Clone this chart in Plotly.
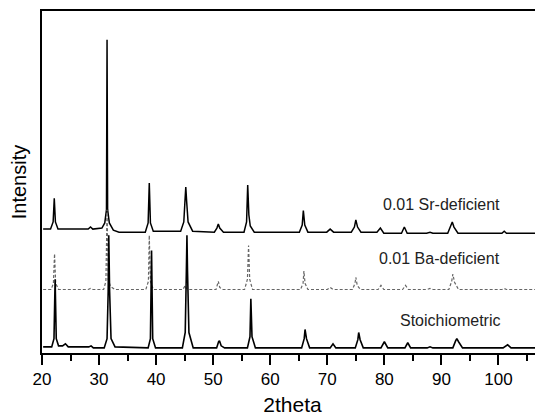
import plotly.graph_objects as go

# XRD patterns, offset vertically (arbitrary intensity units)
sr_x = [20.2, 21.5, 21.95, 22.15, 22.35, 22.8, 28.1, 28.5, 28.9, 30.5, 31.0, 31.3, 31.4, 31.5, 31.8,
        32.5, 33.5, 38.1, 38.6, 38.8, 39.0, 39.5, 44.3, 44.85, 45.05, 45.2, 45.35, 45.6, 46.4,
        50.2, 50.65, 50.9, 51.15, 51.8, 55.4, 55.85, 56.05, 56.25, 56.5, 57.2, 65.1, 65.6,
        65.8, 66.05, 66.6, 69.9, 70.5, 71.1, 74.2, 74.75, 75.0, 75.3, 75.9, 78.7, 79.3, 79.9,
        83.0, 83.5, 84.0, 87.4, 88.0, 88.5, 91.1, 91.65, 91.9, 92.2, 92.9, 100.6, 101.0,
        101.4, 108]
sr_y = [121, 121, 128, 151, 128, 121, 121, 123, 121, 122, 127, 140, 306, 140, 127,
        120, 118, 118, 127, 166, 127, 119, 119, 128, 148, 162, 148, 128, 119,
        118, 122, 126, 122, 118, 118, 128, 164, 135, 124, 118, 118, 125,
        139, 125, 118, 118, 121, 118, 118, 123, 130, 123, 118, 118, 122, 117,
        117, 123, 117, 117, 118, 117, 117, 124, 128, 123, 117, 117, 119,
        117, 117]

ba_x = [20.2, 21.6, 22.0, 22.2, 22.4, 22.9, 28.1, 28.5, 28.9, 30.8, 31.2, 31.4, 31.6, 32.0,
        32.8, 38.2, 38.65, 38.8, 39.0, 39.5, 44.7, 45.1, 45.3, 45.8, 50.5, 50.9, 51.15, 51.7,
        55.5, 56.0, 56.2, 56.4, 56.9, 65.3, 65.75, 65.9, 66.1, 66.6, 70.0, 70.5, 71.0, 74.4,
        74.85, 75.0, 75.25, 75.8, 78.9, 79.4, 79.9, 83.2, 83.7, 84.2, 87.5, 88.0, 88.5, 91.3,
        91.8, 92.0, 92.3, 93.0, 100.6, 101.0, 101.4, 108]
ba_y = [62, 62, 68, 97, 68, 62, 62, 63, 62, 62, 70, 140, 72, 65,
        62, 62, 70, 115, 70, 62, 62, 66, 63, 62, 62, 70, 64, 62,
        62, 72, 105, 72, 62, 62, 68, 80, 68, 62, 62, 64, 62, 62,
        68, 74, 66, 62, 62, 66, 62, 62, 66, 62, 62, 63, 62, 62,
        70, 77, 69, 62, 62, 63, 62, 62]

st_x = [20.2, 21.7, 22.1, 22.3, 22.5, 22.9, 23.6, 24.1, 24.6, 28.2, 28.6, 29.0, 30.9, 31.4,
        31.6, 31.7, 31.85, 32.1, 32.8, 38.6, 39.0, 39.2, 39.4, 39.9, 44.6, 45.1, 45.3, 45.4,
        45.5, 45.75, 46.5, 50.6, 50.95, 51.1, 51.4, 52.0, 56.0, 56.45, 56.6, 56.8, 57.4,
        65.5, 65.95, 66.1, 66.35, 66.9, 70.5, 71.0, 71.5, 74.9, 75.35, 75.5, 75.75, 76.3,
        79.4, 80.0, 80.6, 83.6, 84.1, 84.6, 87.5, 88.0, 88.5, 92.0, 92.5, 92.7, 93.0, 93.7,
        100.8, 101.6, 102.2, 108]
st_y = [6, 6, 14, 72, 14, 7, 7, 9, 6, 6, 7, 5, 5, 14,
        60, 115, 60, 14, 6, 5, 14, 100, 14, 5, 5, 20, 80, 115,
        80, 20, 5, 5, 11, 12, 7, 5, 5, 16, 53, 16, 5,
        5, 14, 23, 14, 5, 5, 9, 5, 5, 13, 20, 13, 5,
        5, 11, 5, 5, 10, 5, 5, 6, 5, 5, 12, 14, 11, 5,
        5, 8, 5, 5]

labels = ["0.01 Sr-deficient", "0.01 Ba-deficient", "Stoichiometric"]
label_y = [145, 92, 32]

FONT = "Liberation Sans, Arial, sans-serif"

fig = go.Figure()
fig.add_trace(go.Scatter(x=sr_x, y=sr_y, mode="lines", name=labels[0],
                         line=dict(color="black", width=1.5)))
fig.add_trace(go.Scatter(x=ba_x, y=ba_y, mode="lines", name=labels[1],
                         line=dict(color="#666666", width=1.2, dash="3px,2px")))
fig.add_trace(go.Scatter(x=st_x, y=st_y, mode="lines", name=labels[2],
                         line=dict(color="black", width=1.6)))

for text, yy in zip(labels, label_y):
    fig.add_annotation(x=100.6, y=yy, text=text, showarrow=False, xanchor="right",
                       yanchor="middle", font=dict(family=FONT, size=16, color="#222"))

# page body keeps its default 8px margin, so the figure is 8px smaller and
# the plot margins are trimmed to put the axes where the reference has them
fig.update_layout(
    width=535,
    height=408,
    showlegend=False,
    plot_bgcolor="white",
    paper_bgcolor="white",
    margin=dict(l=34, r=0, t=3, b=63),
    font=dict(family=FONT, color="black"),
    xaxis=dict(
        range=[20, 107.8],
        dtick=10,
        tick0=20,
        ticks="outside",
        ticklen=10,
        tickwidth=1.5,
        tickcolor="black",
        tickfont=dict(size=17),
        minor=dict(dtick=5, ticks="outside", ticklen=6, tickwidth=1.5, tickcolor="black"),
        showline=True,
        linecolor="black",
        linewidth=2,
        mirror=True,
        showgrid=False,
        zeroline=False,
        title=dict(text="2theta", font=dict(size=21), standoff=11),
        automargin=False,
    ),
    yaxis=dict(
        range=[0, 334],
        showticklabels=False,
        ticks="",
        showline=True,
        linecolor="black",
        linewidth=2,
        showgrid=False,
        zeroline=False,
        title=dict(text="Intensity", font=dict(size=20), standoff=10),
        automargin=False,
    ),
)

fig.write_html("out.html")
